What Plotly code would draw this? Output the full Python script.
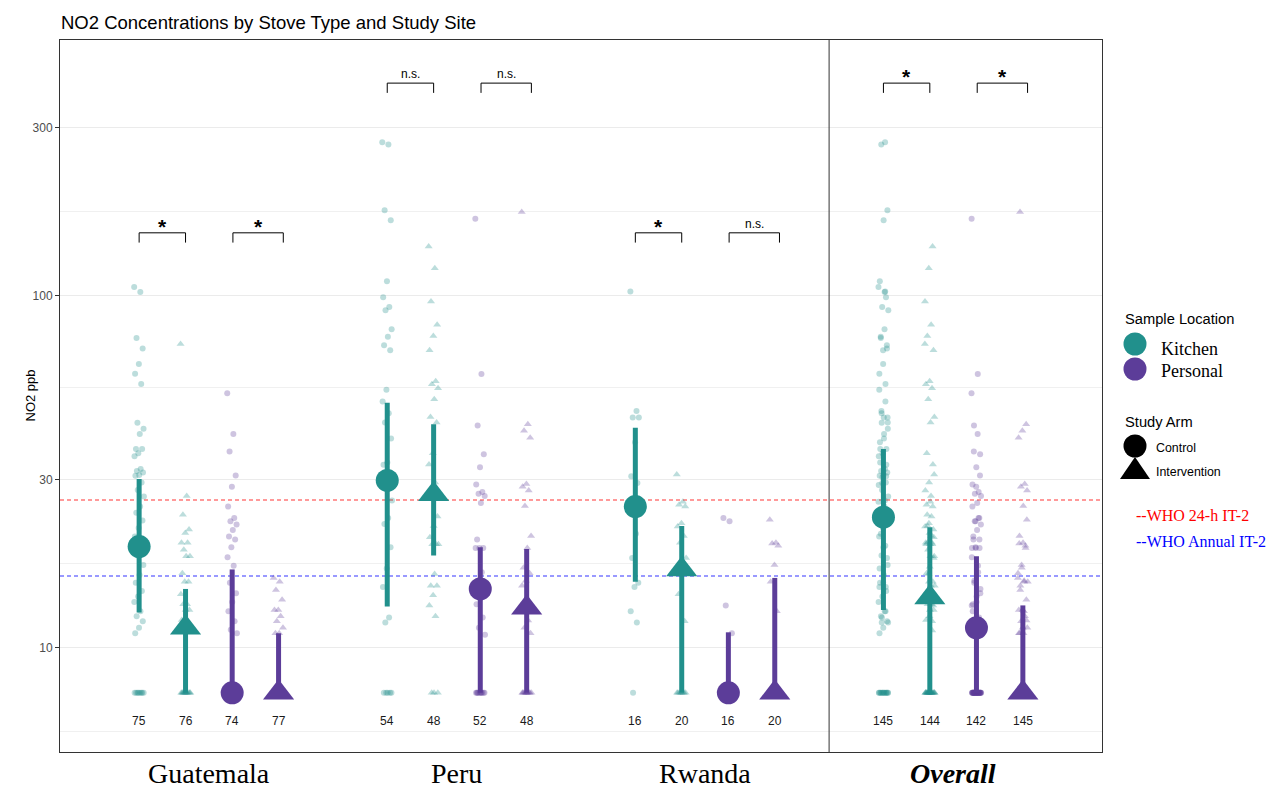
import math
import plotly.graph_objects as go

# ---------------- data (NO2, ppb) ----------------
LOD = 7.45

sites = ["Guatemala", "Peru", "Rwanda", "Overall"]
site_labels = ["Guatemala", "Peru", "Rwanda", "<b><i>Overall</i></b>"]
group_names = ["Kitchen Control", "Kitchen Intervention", "Personal Control", "Personal Intervention"]

gua_kitchen_control = [106, 102.5, 75.9, 70.8, 64.0, 60.1, 56.2, 43.6, 41.9, 40.5, 36.7, 36.7, 35.7, 35.0,
                       32.2, 31.8, 31.5, 31.0, 30.8, 29.5, 28.1, 26.9, 25.2, 24.2, 23.0, 21.9, 20.7, 19.5,
                       18.3, 17.2, 16.1, 15.3, 14.5, 14.0, 13.5, 12.7, 12.3, 11.9, 11.4, 11.0,
                       LOD, LOD, LOD, LOD, LOD, LOD, LOD, LOD]
gua_kitchen_intervention = [73.0, 27.0, 23.9, 21.7, 21.2, 19.9, 19.9, 19.0, 18.2, 18.2, 16.3, 15.4, 15.4,
                            14.2, 13.3, 13.3, 12.8, 12.8, 12.0, 11.2,
                            LOD, LOD, LOD, LOD, LOD, LOD, LOD, LOD, LOD, LOD, LOD, LOD]
gua_personal_control = [52.9, 40.5, 36.1, 30.9, 28.7, 25.2, 23.4, 22.9, 22.4, 21.6, 20.7, 20.3, 19.3, 18.1,
                        17.1, 15.3, 14.3, 13.5, 12.7, 11.9, 11.25, 11.0,
                        LOD, LOD, LOD, LOD, LOD, LOD, LOD, LOD, LOD, LOD, LOD, LOD]
gua_personal_intervention = [15.8, 15.4, 14.6, 13.7, 12.8, 12.8, 12.3, 11.9, 11.4, 11.0, 11.0,
                             LOD, LOD, LOD, LOD, LOD, LOD, LOD, LOD, LOD, LOD, LOD, LOD]

peru_kitchen_control = [273, 269, 175, 164, 110, 99, 93.0, 91.0, 80.3, 76.5, 72.4, 70.1, 54.1, 50.1, 46.4,
                        43.7, 39.3, 33.6, 33.1, 30.5, 29.0, 26.2, 23.4, 22.5, 19.3, 16.8, 14.9, 12.2, 11.8,
                        LOD, LOD, LOD, LOD, LOD]
peru_kitchen_intervention = [138, 119.7, 96.4, 82.7, 76.9, 70.1, 57.2, 56.1, 54.6, 50.8, 45.3, 43.7, 35.7,
                             33.2, 29.5, 28.0, 23.6, 22.2, 20.6, 19.7, 19.7, 19.7, 16.2, 15.0, 15.0, 14.1,
                             13.2, 12.3, LOD, LOD, LOD]
peru_personal_control = [165.5, 60.0, 42.8, 35.5, 32.6, 29.1, 27.7, 27.4, 27.0, 25.8, 20.3, 19.2, 19.2, 19.2,
                         16.4, 15.5, 14.7, 14.0, 13.3, 12.2, 11.4, 10.9,
                         LOD, LOD, LOD, LOD, LOD, LOD, LOD, LOD, LOD, LOD]
peru_personal_intervention = [173, 43.2, 41.4, 39.5, 29.2, 28.7, 28.0, 25.3, 20.8, 19.2, 16.9, 16.3, 15.5,
                              15.0, 11.95, 11.4, 11.0,
                              LOD, LOD, LOD, LOD, LOD, LOD, LOD, LOD, LOD, LOD]

rwa_kitchen_control = [102.8, 47.1, 45.1, 45.1, 38.4, 30.7, 29.4, 26.0, 24.0, 21.1, 18.0, 15.3, 14.9, 12.7,
                       11.8, LOD]
rwa_kitchen_intervention = [31.1, 26.0, 25.5, 25.2, 22.6, 22.1, 20.8, 19.9, 18.0, 17.0, 14.2, 11.9,
                            LOD, LOD, LOD, LOD, LOD, LOD, LOD, LOD]
rwa_personal_control = [23.4, 22.9, 13.2, 11.0, LOD, LOD, LOD, LOD, LOD, LOD, LOD, LOD, LOD, LOD, LOD, LOD]
rwa_personal_intervention = [23.1, 19.9, 19.8, 19.5, 17.2, 15.4, 12.7,
                             LOD, LOD, LOD, LOD, LOD, LOD, LOD, LOD, LOD, LOD, LOD, LOD, LOD]

site_samples = {
    "Guatemala": [gua_kitchen_control, gua_kitchen_intervention, gua_personal_control, gua_personal_intervention],
    "Peru": [peru_kitchen_control, peru_kitchen_intervention, peru_personal_control, peru_personal_intervention],
    "Rwanda": [rwa_kitchen_control, rwa_kitchen_intervention, rwa_personal_control, rwa_personal_intervention],
}
site_samples["Overall"] = [
    site_samples["Guatemala"][g] + site_samples["Peru"][g] + site_samples["Rwanda"][g] for g in range(4)
]

# median and interquartile range as drawn
medians = {"Guatemala": [19.4, 11.4, LOD, LOD], "Peru": [29.9, 27.3, 14.7, 13.0],
           "Rwanda": [25.2, 16.7, LOD, LOD], "Overall": [23.5, 13.9, 11.4, LOD]}
q1 = {"Guatemala": [12.6, LOD, LOD, LOD], "Peru": [13.1, 18.3, LOD, LOD],
      "Rwanda": [15.4, LOD, LOD, LOD], "Overall": [12.8, LOD, LOD, LOD]}
q3 = {"Guatemala": [30.2, 14.7, 16.7, 11.0], "Peru": [49.7, 43.2, 19.3, 19.1],
      "Rwanda": [42.2, 22.2, 11.07, 15.8], "Overall": [36.7, 22.0, 18.2, 13.2]}

n_labels = {"Guatemala": ["75", "76", "74", "77"], "Peru": ["54", "48", "52", "48"],
            "Rwanda": ["16", "20", "16", "20"], "Overall": ["145", "144", "142", "145"]}
sig_labels = {"Guatemala": ["*", "*"], "Peru": ["n.s.", "n.s."], "Rwanda": ["*", "n.s."], "Overall": ["*", "*"]}
sig_height = {"Guatemala": 151, "Peru": 402, "Rwanda": 151, "Overall": 402}
n_label_value = 6.2

who_24h_it2 = 26.3
who_annual_it2 = 16.0

y_ticks = [10, 30, 100, 300]
y_range = [5.06, 533]

# ---------------- styling ----------------
TEAL = "#21908C"
PURPLE = "#5C3D99"
TEAL_A = "rgba(33,144,140,0.30)"
PURPLE_A = "rgba(92,61,153,0.30)"
colors = [TEAL, TEAL, PURPLE, PURPLE]
colors_a = [TEAL_A, TEAL_A, PURPLE_A, PURPLE_A]
symbols = ["circle", "triangle-up", "circle", "triangle-up"]
dodge = [-0.281, -0.094, 0.094, 0.281]
bracket_span = [(-0.281, -0.094), (0.097, 0.300)]
SANS = "Liberation Sans, Arial, sans-serif"
SERIF = "Liberation Serif, Times New Roman, serif"

W, H = 1270, 790
L, R, T, B = 60, 168, 40, 38
PW, PH = W - L - R, H - T - B


def px2x(px):
    return (px - L) / PW


def py2y(py):
    return (H - B - py) / PH


def jitter(i):
    return (((i * 0.6180339887) % 1.0) - 0.5) * 0.04


fig = go.Figure()

# reference lines
for val, col in [(who_24h_it2, "rgba(255,0,0,0.8)"), (who_annual_it2, "rgba(0,0,255,0.8)")]:
    fig.add_trace(go.Scatter(x=[0.4, 4.6], y=[val, val], mode="lines",
                             line=dict(color=col, width=1.2, dash="4px,3px"),
                             hoverinfo="skip", showlegend=False))

# raw points
for si, site in enumerate(sites):
    for g in range(4):
        vals = site_samples[site][g]
        xs = [si + 1 + dodge[g] + jitter(i) for i in range(len(vals))]
        fig.add_trace(go.Scatter(
            x=xs, y=vals, mode="markers",
            marker=dict(symbol=symbols[g], size=6 if symbols[g] == "circle" else 7,
                        color=colors_a[g], line=dict(width=0)),
            showlegend=False, hoverinfo="y"))

# summaries
for si, site in enumerate(sites):
    for g in range(4):
        xp = si + 1 + dodge[g]
        fig.add_trace(go.Scatter(x=[xp, xp], y=[q1[site][g], q3[site][g]], mode="lines",
                                 line=dict(color=colors[g], width=5),
                                 showlegend=False, hoverinfo="skip"))
        fig.add_trace(go.Scatter(x=[xp], y=[medians[site][g]], mode="markers",
                                 marker=dict(symbol=symbols[g],
                                             size=23 if symbols[g] == "circle" else 27,
                                             color=colors[g], line=dict(width=0)),
                                 showlegend=False, name=f"{site} {group_names[g]}"))

annotations = []
# significance brackets
for si, site in enumerate(sites):
    top = sig_height[site]
    leg = top / 1.066
    for b in range(2):
        x0 = si + 1 + bracket_span[b][0]
        x1 = si + 1 + bracket_span[b][1]
        fig.add_trace(go.Scatter(x=[x0, x0, x1, x1], y=[leg, top, top, leg], mode="lines",
                                 line=dict(color="black", width=1),
                                 showlegend=False, hoverinfo="skip"))
        lab = sig_labels[site][b]
        if lab == "*":
            annotations.append(dict(x=(x0 + x1) / 2, y=math.log10(top), xref="x", yref="y",
                                    text="<b>*</b>", showarrow=False, yanchor="bottom", yshift=-7,
                                    font=dict(family=SANS, size=21, color="black")))
        else:
            annotations.append(dict(x=(x0 + x1) / 2, y=math.log10(top), xref="x", yref="y",
                                    text=lab, showarrow=False, yanchor="bottom", yshift=0,
                                    font=dict(family=SANS, size=12, color="black")))

# n labels
for si, site in enumerate(sites):
    for g in range(4):
        annotations.append(dict(x=si + 1 + dodge[g], y=math.log10(n_label_value), xref="x", yref="y",
                                text=n_labels[site][g], showarrow=False,
                                font=dict(family=SANS, size=12, color="#1A1A1A")))

# x category labels
for si, lab in enumerate(site_labels):
    annotations.append(dict(x=si + 1, y=py2y(773), xref="x", yref="paper", text=lab, showarrow=False,
                            yanchor="middle", font=dict(family=SERIF, size=28, color="black")))

# title and y-axis title
annotations.append(dict(x=px2x(59), y=py2y(22), xref="paper", yref="paper", xanchor="left", yanchor="middle",
                        text="NO2 Concentrations by Stove Type and Study Site", showarrow=False,
                        font=dict(family=SANS, size=18.5, color="black")))
annotations.append(dict(x=px2x(20), y=py2y(396), xref="paper", yref="paper", text="NO2 ppb",
                        textangle=-90, showarrow=False, font=dict(family=SANS, size=13, color="black")))

# custom legend text
legend_text = [
    ("Sample Location", 1123, 319, SANS, 14.7, "black"),
    ("Kitchen", 1159, 349, SERIF, 18, "black"),
    ("Personal", 1159, 371, SERIF, 18, "black"),
    ("Study Arm", 1123, 422, SANS, 14.7, "black"),
    ("Control", 1154, 448, SANS, 12.4, "black"),
    ("Intervention", 1154, 472, SANS, 12.4, "black"),
    ("--WHO 24-h IT-2", 1134, 515, SERIF, 16, "red"),
    ("--WHO Annual IT-2", 1134, 541, SERIF, 16, "blue"),
]
for txt, px, py, fam, sz, col in legend_text:
    annotations.append(dict(x=px2x(px), y=py2y(py), xref="paper", yref="paper", xanchor="left",
                            yanchor="middle", text=txt, showarrow=False,
                            font=dict(family=fam, size=sz, color=col)))

shapes = [
    # facet divider
    dict(type="line", xref="x", yref="paper", x0=3.5, x1=3.5, y0=0, y1=1,
         line=dict(color="#333333", width=1)),
]
for col, py in [(TEAL, 344), (PURPLE, 369), ("black", 446)]:
    shapes.append(dict(type="circle", xref="paper", yref="paper", xsizemode="pixel", ysizemode="pixel",
                       xanchor=px2x(1135), yanchor=py2y(py), x0=-11.5, x1=11.5, y0=-11.5, y1=11.5,
                       fillcolor=col, line=dict(width=0)))
shapes.append(dict(type="path", xref="paper", yref="paper", xsizemode="pixel", ysizemode="pixel",
                   xanchor=px2x(1135), yanchor=py2y(468), path="M -15,-11 L 15,-11 L 0,11 Z",
                   fillcolor="black", line=dict(width=0)))

minor_vals = [10 / math.sqrt(3)] + [math.sqrt(a * b) for a, b in zip(y_ticks[:-1], y_ticks[1:])]

fig.update_layout(
    width=W, height=H, margin=dict(l=L, r=R, t=T, b=B),
    paper_bgcolor="white", plot_bgcolor="white",
    showlegend=False,
    annotations=annotations, shapes=shapes,
    xaxis=dict(range=[0.4, 4.6], showgrid=False, zeroline=False, showticklabels=False, ticks="",
               showline=True, mirror=True, linecolor="#333333", linewidth=1),
    yaxis=dict(type="log", range=[math.log10(y_range[0]), math.log10(y_range[1])],
               tickvals=y_ticks, ticktext=[str(v) for v in y_ticks],
               ticks="outside", ticklen=4, tickcolor="#333333",
               tickfont=dict(family=SANS, size=12, color="#4D4D4D"),
               showgrid=True, gridcolor="#EBEBEB", gridwidth=1, zeroline=False,
               showline=True, mirror=True, linecolor="#333333", linewidth=1,
               minor=dict(tickvals=minor_vals, showgrid=True, gridcolor="#F0F0F0", gridwidth=0.8, ticks="")),
)

fig.write_html("out.html")
